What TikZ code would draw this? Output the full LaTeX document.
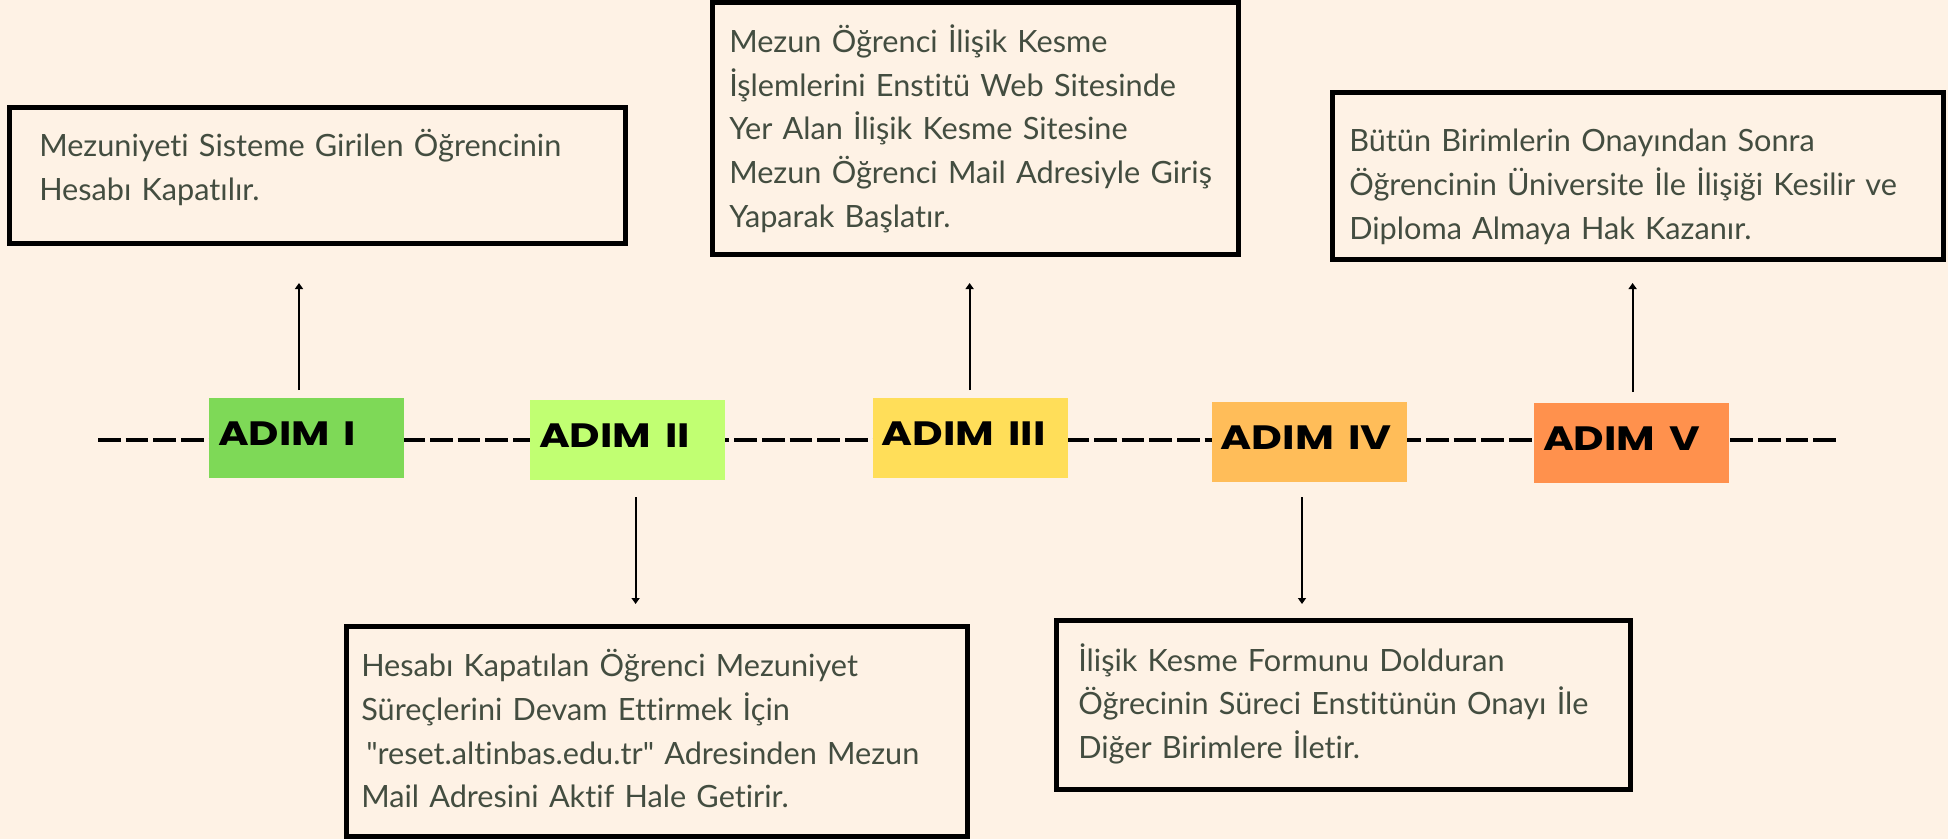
\documentclass[tikz,border=0pt]{standalone}
\usepackage{fontspec}
\usepackage{graphicx}
\setmainfont{Lato}[Ligatures={NoCommon,TeXOff}]
\newfontfamily\adimfont{Poppins}
\usetikzlibrary{arrows.meta}
\newdimen\px \px=0.75pt
\definecolor{bg}{HTML}{FEF2E5}
\definecolor{txtc}{HTML}{434D40}
\definecolor{cI}{HTML}{7ED957}
\definecolor{cII}{HTML}{C1FF72}
\definecolor{cIII}{HTML}{FFDE59}
\definecolor{cIV}{HTML}{FFBD59}
\definecolor{cV}{HTML}{FF914D}
\tikzset{
  infobox/.style={draw=black, line width=3.75pt, fill=bg, inner sep=0pt},
  infotxt/.style={anchor=base west, inner sep=0pt, text width=465pt, align=left, text=txtc,
    font=\fontsize{23pt}{32.8pt}\selectfont},
  adimbox/.style={inner xsep=6.75pt, inner ysep=0pt, text width=132.75pt, align=left,
    minimum height=60pt, text depth=5.8pt, text=black},
  timeline/.style={line width=3.2pt, dash pattern=on 17pt off 3.75pt},
  arr/.style={line width=1.5pt, -{Triangle[length=4.5pt, width=6pt]}}
}
\newcommand{\adimlabel}[2]{\resizebox{#1\px}{23.7\px}{\adimfont\bfseries #2}}
\begin{document}
\begin{tikzpicture}[x=0.75pt, y=-0.75pt]
\useasboundingbox (0,0) rectangle (1948,839);
\fill[bg] (0,0) rectangle (1948,839);
% timeline
\coordinate (ls) at (98,440);
\coordinate (le) at (1838,440);
\draw[timeline] (ls) -- (le);
% step boxes
\node[adimbox, fill=cI, minimum width=146.25pt] (a1) at (306.5,438) {\adimlabel{138}{ADIM I}};
\node[adimbox, fill=cII, minimum width=146.25pt] (a2) at (627.5,439.5) {\adimlabel{151}{ADIM II}};
\node[adimbox, fill=cIII, minimum width=145.5pt] (a3) at (970,438) {\adimlabel{164}{ADIM III}};
\node[adimbox, fill=cIV, minimum width=145.5pt] (a4) at (1309,442) {\adimlabel{171}{ADIM IV}};
\node[adimbox, fill=cV, minimum width=146.25pt] (a5) at (1631.5,443) {\adimlabel{157}{ADIM V}};
% info boxes
\node[infobox, minimum width=462pt, minimum height=102pt] (b1) at (317.5,175.5) {};
\node[infobox, minimum width=394.5pt, minimum height=189pt] (b3) at (975.5,128.5) {};
\node[infobox, minimum width=458.25pt, minimum height=125.25pt] (b5) at (1638,176) {};
\node[infobox, minimum width=466.1pt, minimum height=157.5pt] (b2) at (657.25,731.5) {};
\node[infobox, minimum width=430.5pt, minimum height=126.75pt] (b4) at (1343.5,705) {};
% texts
\node[infotxt] (t1) at (39,156.7) {Mezuniyeti Sisteme Girilen Öğrencinin\\Hesabı Kapatılır.};
\node[infotxt] (t3) at (729,52.3) {Mezun Öğrenci İlişik Kesme\\İşlemlerini Enstitü Web Sitesinde\\Yer Alan İlişik Kesme Sitesine\\Mezun Öğrenci Mail Adresiyle Giriş\\Yaparak Başlatır.};
\node[infotxt] (t5) at (1349,151.7) {Bütün Birimlerin Onayından Sonra\\Öğrencinin Üniversite İle İlişiği Kesilir ve\\Diploma Almaya Hak Kazanır.};
\node[infotxt] (t2) at (361,676.7) {Hesabı Kapatılan Öğrenci Mezuniyet\\Süreçlerini Devam Ettirmek İçin\\\hspace*{3.75pt}{\char34}reset.altinbas.edu.tr{\char34} Adresinden Mezun\\Mail Adresini Aktif Hale Getirir.};
\node[infotxt] (t4) at (1078,671) {İlişik Kesme Formunu Dolduran\\Öğrecinin Süreci Enstitünün Onayı İle\\Diğer Birimlere İletir.};
% arrows
\coordinate (u1s) at (299,390);   \coordinate (u1e) at (299,283);
\coordinate (u3s) at (969.6,390); \coordinate (u3e) at (969.6,283);
\coordinate (u5s) at (1632.6,392); \coordinate (u5e) at (1632.6,283);
\coordinate (d2s) at (635.6,497); \coordinate (d2e) at (635.6,604);
\coordinate (d4s) at (1302,497);  \coordinate (d4e) at (1302,604);
\draw[arr] (u1s) -- (u1e);
\draw[arr] (u3s) -- (u3e);
\draw[arr] (u5s) -- (u5e);
\draw[arr] (d2s) -- (d2e);
\draw[arr] (d4s) -- (d4e);
\end{tikzpicture}
\end{document}
